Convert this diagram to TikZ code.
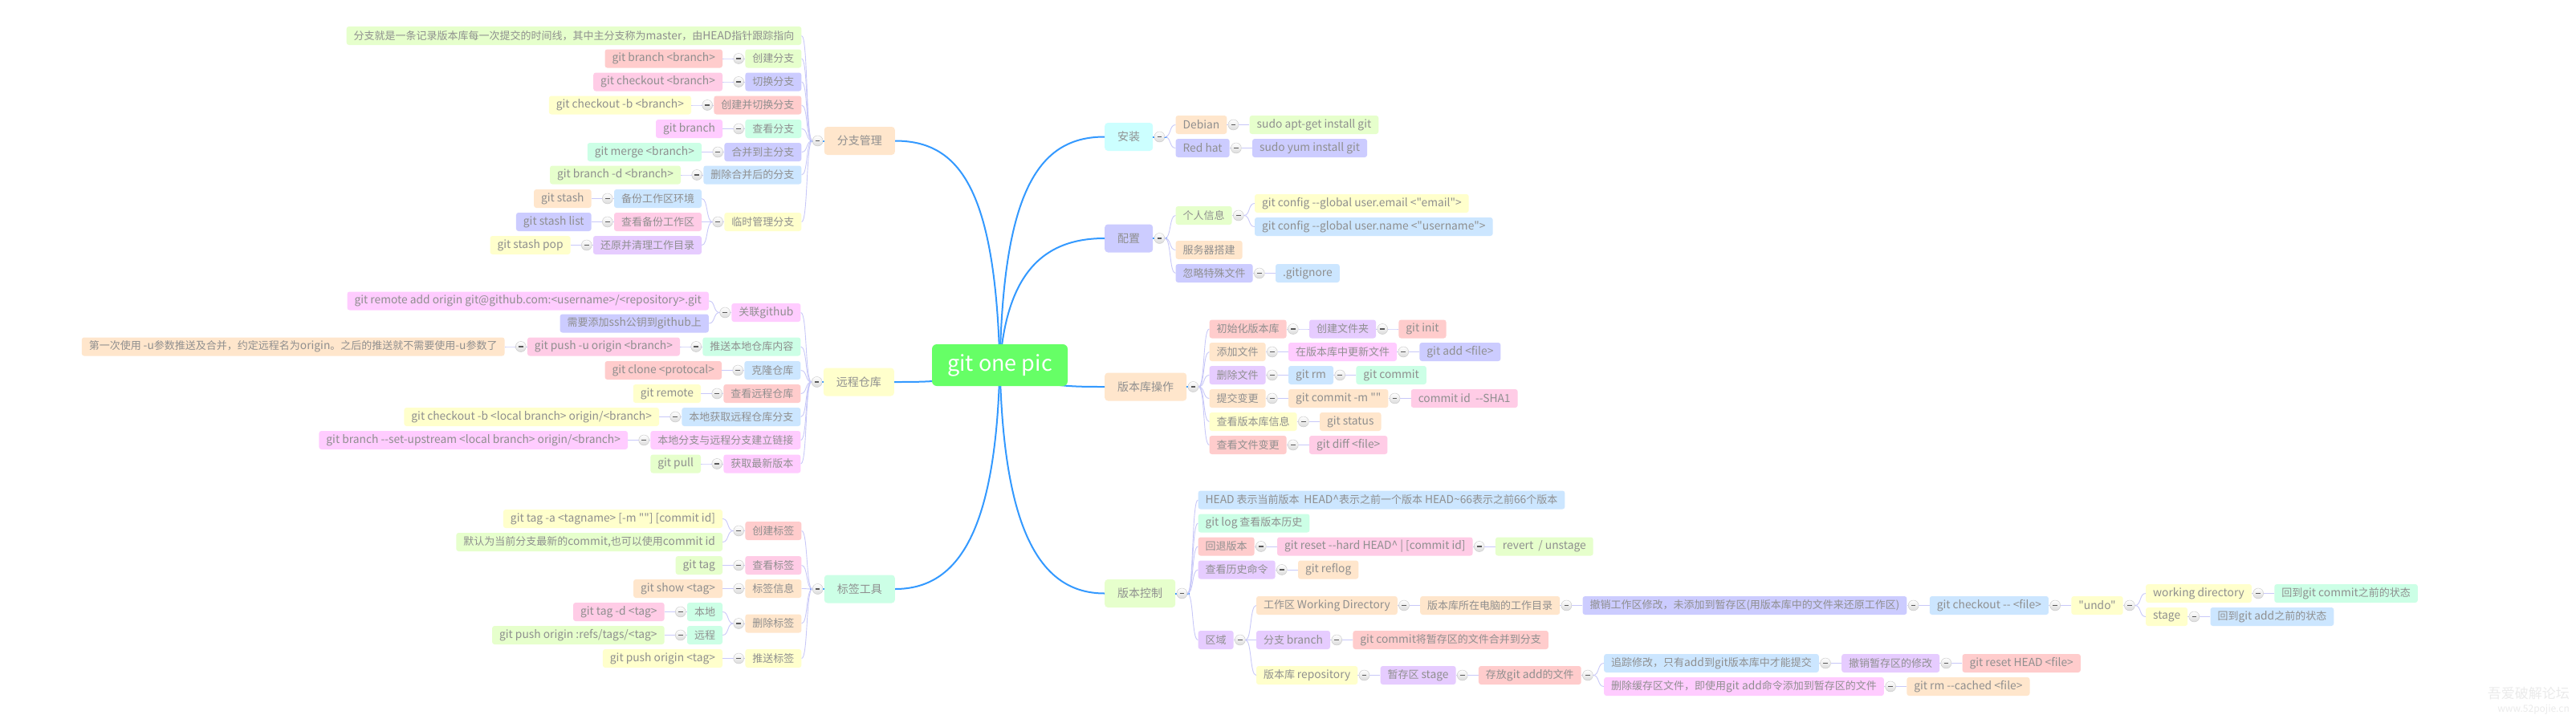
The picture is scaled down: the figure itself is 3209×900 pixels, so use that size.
\documentclass[tikz,border=0pt]{standalone}
\usepackage{fontspec}
\newfontfamily\cn{Noto Sans CJK SC}[Ligatures=TeXOff]
\usetikzlibrary{backgrounds,calc,shadings}
\newcommand\lx[1]{{\fontsize{13.8pt}{15pt}\selectfont #1}}
\definecolor{txt}{HTML}{8F8F8F}
\definecolor{cO}{HTML}{FFE6CC}
\definecolor{cY}{HTML}{FFFFCC}
\definecolor{cG}{HTML}{E6FFCC}
\definecolor{cM}{HTML}{CCFFE6}
\definecolor{cC}{HTML}{CCFFFF}
\definecolor{cB}{HTML}{CCE6FF}
\definecolor{cL}{HTML}{CCCCFF}
\definecolor{cP}{HTML}{E6CCFF}
\definecolor{cMg}{HTML}{FFCCFF}
\definecolor{cK}{HTML}{FFCCE6}
\definecolor{cR}{HTML}{FFCCCC}
\definecolor{rootg}{HTML}{66FF66}
\definecolor{mblue}{HTML}{3399FF}
\definecolor{lline}{HTML}{C8C8F8}
\tikzset{
  sub/.style={rounded corners=3pt, minimum height=23pt, inner xsep=9pt, inner ysep=0pt, text=txt, font=\cn\fontsize{13pt}{15pt}\selectfont},
  mt/.style={rounded corners=4pt, minimum height=35pt, inner xsep=16pt, inner ysep=0pt, text=txt, font=\cn\fontsize{14pt}{16pt}\selectfont},
  rootbox/.style={rounded corners=6pt, fill=rootg, minimum width=169pt, minimum height=52pt, inner sep=0pt, text=white, font=\cn\fontsize{27pt}{30pt}\selectfont},
  col/.style={circle, minimum size=13pt, inner sep=0pt, draw=gray!45, top color=white, bottom color=gray!28,
    path picture={\draw[line width=1.7pt, draw=gray!70!black] ([xshift=-2.8pt]path picture bounding box.center) -- ([xshift=2.8pt]path picture bounding box.center);}},
  sl/.style={draw=lline, line width=0.9pt},
  ml/.style={draw=mblue, line width=2pt},
}
% left-side child: color, name, parent, y, text
\newcommand\LK[5]{\node[sub,fill=#1,anchor=east] (#2) at ([xshift=-28pt]#3.west |- 0,#4) {#5};
  \draw[sl] (#3-c.west) .. controls +(-8,0) and +(8,0) .. (#2.east);}
\newcommand\RK[5]{\node[sub,fill=#1,anchor=west] (#2) at ([xshift=28pt]#3.east |- 0,#4) {#5};
  \draw[sl] (#3-c.east) .. controls +(8,0) and +(-8,0) .. (#2.west);}
\newcommand\LCol[1]{\draw[sl] ([xshift=-8pt]#1.west) -- (#1.west);
  \node[col] (#1-c) at ([xshift=-8pt]#1.west) {};}
\newcommand\RCol[1]{\draw[sl] ([xshift=8pt]#1.east) -- (#1.east);
  \node[col] (#1-c) at ([xshift=8pt]#1.east) {};}
\newcommand\MLCol[1]{\draw[ml] ([xshift=-18pt]#1.west) -- (#1.west);
  \node[col] (#1-c) at ([xshift=-8pt]#1.west) {};}
\newcommand\MRCol[1]{\draw[ml] ([xshift=18pt]#1.east) -- (#1.east);
  \node[col] (#1-c) at ([xshift=8pt]#1.east) {};}

\begin{document}
\begin{tikzpicture}[x=1pt,y=-1pt]
\fill[white] (0,0) rectangle (3209,900);
\useasboundingbox (0,0) rectangle (3209,900);

% main topics
\node[mt,fill=cO,anchor=east] (fz) at (1115,175.5) {分支管理};
\node[mt,fill=cY,anchor=east] (yc) at (1114,476) {远程仓库};
\node[mt,fill=cM,anchor=east] (bq) at (1115,734) {标签工具};
\node[mt,fill=cC,anchor=west] (az) at (1376,170.5) {安装};
\node[mt,fill=cL,anchor=west] (pz) at (1376,297) {配置};
\node[mt,fill=cO,anchor=west] (bk) at (1376,482) {版本库操作};
\node[mt,fill=cG,anchor=west] (bc) at (1376,739.5) {版本控制};

% root connectors
\coordinate (rc) at (1245.5,455);
\draw[ml] (rc) .. controls (1240,235) and (1195,175.5) .. (fz.east);
\draw[ml] (rc) .. controls (1200,476) and (1160,476) .. (yc.east);
\draw[ml] (rc) .. controls (1241,660) and (1195,734) .. (bq.east);
\draw[ml] (rc) .. controls (1250,235) and (1295,170.5) .. (az.west);
\draw[ml] (rc) .. controls (1254,340) and (1300,297) .. (pz.west);
\draw[ml] (rc) .. controls (1290,482) and (1330,482) .. (bk.west);
\draw[ml] (rc) .. controls (1250,660) and (1295,739.5) .. (bc.west);
\node[rootbox] (root) at (rc) {git one pic};

% ---------- 分支管理 ----------
\MLCol{fz}
\LK{cG}{fz1}{fz}{44.5}{分支就是一条记录版本库每一次提交的时间线，其中主分支称为\lx{master}，由\lx{HEAD}指针跟踪指向}
\LK{cG}{fz2}{fz}{73}{创建分支}
\LK{cL}{fz3}{fz}{102}{切换分支}
\LK{cR}{fz4}{fz}{131}{创建并切换分支}
\LK{cM}{fz5}{fz}{160.5}{查看分支}
\LK{cL}{fz6}{fz}{189.5}{合并到主分支}
\LK{cB}{fz7}{fz}{218}{删除合并后的分支}
\LK{cY}{fz8}{fz}{276.5}{临时管理分支}
\LCol{fz2}\LK{cR}{fz2a}{fz2}{73}{\lx{git branch <branch>}}
\LCol{fz3}\LK{cK}{fz3a}{fz3}{102}{\lx{git checkout <branch>}}
\LCol{fz4}\LK{cY}{fz4a}{fz4}{131}{\lx{git checkout -b <branch>}}
\LCol{fz5}\LK{cMg}{fz5a}{fz5}{160.5}{\lx{git branch}}
\LCol{fz6}\LK{cM}{fz6a}{fz6}{189.5}{\lx{git merge <branch>}}
\LCol{fz7}\LK{cG}{fz7a}{fz7}{218}{\lx{git branch -d <branch>}}
\LCol{fz8}
\LK{cB}{fz8a}{fz8}{247.5}{备份工作区环境}
\LK{cK}{fz8b}{fz8}{276.5}{查看备份工作区}
\LK{cP}{fz8c}{fz8}{305.5}{还原并清理工作目录}
\LCol{fz8a}\LK{cO}{fz8d}{fz8a}{247.5}{\lx{git stash}}
\LCol{fz8b}\LK{cL}{fz8e}{fz8b}{276.5}{\lx{git stash list}}
\LCol{fz8c}\LK{cY}{fz8f}{fz8c}{305.5}{\lx{git stash pop}}

% ---------- 远程仓库 ----------
\MLCol{yc}
\LK{cMg}{yc1}{yc}{389.5}{关联\lx{github}}
\LK{cM}{yc2}{yc}{432}{推送本地仓库内容}
\LK{cB}{yc3}{yc}{461.5}{克隆仓库}
\LK{cR}{yc4}{yc}{490.5}{查看远程仓库}
\LK{cB}{yc5}{yc}{519.5}{本地获取远程仓库分支}
\LK{cMg}{yc6}{yc}{548.5}{本地分支与远程分支建立链接}
\LK{cMg}{yc7}{yc}{578}{获取最新版本}
\LCol{yc1}
\LK{cMg}{yc1a}{yc1}{375}{\lx{git remote add origin git@github.com:<username>/<repository>.git}}
\LK{cL}{yc1b}{yc1}{403}{需要添加\lx{ssh}公钥到\lx{github}上}
\LCol{yc2}\LK{cK}{yc2a}{yc2}{432}{\lx{git push -u origin <branch>}}
\LCol{yc2a}\LK{cO}{yc2b}{yc2a}{432}{第一次使用 \lx{-u}参数推送及合并，约定远程名为\lx{origin}。之后的推送就不需要使用\lx{-u}参数了}
\LCol{yc3}\LK{cR}{yc3a}{yc3}{461.5}{\lx{git clone <protocal>}}
\LCol{yc4}\LK{cY}{yc4a}{yc4}{490.5}{\lx{git remote}}
\LCol{yc5}\LK{cY}{yc5a}{yc5}{519.5}{\lx{git checkout -b <local branch> origin/<branch>}}
\LCol{yc6}\LK{cMg}{yc6a}{yc6}{548.5}{\lx{git branch --set-upstream <local branch> origin/<branch>}}
\LCol{yc7}\LK{cG}{yc7a}{yc7}{578}{\lx{git pull}}

% ---------- 标签工具 ----------
\MLCol{bq}
\LK{cR}{bq1}{bq}{661.5}{创建标签}
\LK{cK}{bq2}{bq}{704.5}{查看标签}
\LK{cO}{bq3}{bq}{733.5}{标签信息}
\LK{cO}{bq4}{bq}{777}{删除标签}
\LK{cY}{bq5}{bq}{820.5}{推送标签}
\LCol{bq1}
\LK{cY}{bq1a}{bq1}{646.5}{\lx{git tag -a <tagname> [-m ""] [commit id]}}
\LK{cG}{bq1b}{bq1}{675.5}{默认为当前分支最新的\lx{commit,}也可以使用\lx{commit id}}
\LCol{bq2}\LK{cG}{bq2a}{bq2}{704.5}{\lx{git tag}}
\LCol{bq3}\LK{cO}{bq3a}{bq3}{733.5}{\lx{git show <tag>}}
\LCol{bq4}
\LK{cM}{bq4a}{bq4}{762.5}{本地}
\LK{cM}{bq4b}{bq4}{791.5}{远程}
\LCol{bq4a}\LK{cK}{bq4c}{bq4a}{762.5}{\lx{git tag -d <tag>}}
\LCol{bq4b}\LK{cG}{bq4d}{bq4b}{791.5}{\lx{git push origin :refs/tags/<tag>}}
\LCol{bq5}\LK{cY}{bq5a}{bq5}{820.5}{\lx{git push origin <tag>}}

% ---------- 安装 ----------
\MRCol{az}
\RK{cO}{az1}{az}{155.5}{\lx{Debian}}
\RK{cL}{az2}{az}{184.5}{\lx{Red hat}}
\RCol{az1}\RK{cG}{az1a}{az1}{155.5}{\lx{sudo apt-get install git}}
\RCol{az2}\RK{cL}{az2a}{az2}{184.5}{\lx{sudo yum install git}}

% ---------- 配置 ----------
\MRCol{pz}
\RK{cG}{pz1}{pz}{268.5}{个人信息}
\RK{cO}{pz2}{pz}{311.5}{服务器搭建}
\RK{cL}{pz3}{pz}{340.5}{忽略特殊文件}
\RCol{pz1}
\RK{cY}{pz1a}{pz1}{253.5}{\lx{git config --global user.email <"email">}}
\RK{cB}{pz1b}{pz1}{282.5}{\lx{git config --global user.name <"username">}}
\RCol{pz3}\RK{cB}{pz3a}{pz3}{340.5}{\lx{.gitignore}}

% ---------- 版本库操作 ----------
\MRCol{bk}
\RK{cR}{bk1}{bk}{410}{初始化版本库}
\RK{cO}{bk2}{bk}{438.5}{添加文件}
\RK{cP}{bk3}{bk}{467.5}{删除文件}
\RK{cO}{bk4}{bk}{496.5}{提交变更}
\RK{cY}{bk5}{bk}{525.5}{查看版本库信息}
\RK{cR}{bk6}{bk}{554.5}{查看文件变更}
\RCol{bk1}\RK{cP}{bk1a}{bk1}{410}{创建文件夹}
\RCol{bk1a}\RK{cR}{bk1b}{bk1a}{410}{\lx{git init}}
\RCol{bk2}\RK{cMg}{bk2a}{bk2}{438.5}{在版本库中更新文件}
\RCol{bk2a}\RK{cL}{bk2b}{bk2a}{438.5}{\lx{git add <file>}}
\RCol{bk3}\RK{cB}{bk3a}{bk3}{467.5}{\lx{git rm}}
\RCol{bk3a}\RK{cM}{bk3b}{bk3a}{467.5}{\lx{git commit}}
\RCol{bk4}\RK{cO}{bk4a}{bk4}{496.5}{\lx{git commit -m ""}}
\RCol{bk4a}\RK{cK}{bk4b}{bk4a}{496.5}{\lx{commit id\ \ --SHA1}}
\RCol{bk5}\RK{cO}{bk5a}{bk5}{525.5}{\lx{git status}}
\RCol{bk6}\RK{cK}{bk6a}{bk6}{554.5}{\lx{git diff <file>}}

% ---------- 版本控制 ----------
\MRCol{bc}
\RK{cB}{bc1}{bc}{623}{\lx{HEAD} 表示当前版本\ \ \lx{HEAD\textasciicircum{}}表示之前一个版本 \lx{HEAD\textasciitilde{}66}表示之前\lx{66}个版本}
\RK{cM}{bc2}{bc}{652}{\lx{git log} 查看版本历史}
\RK{cR}{bc3}{bc}{681}{回退版本}
\RK{cP}{bc4}{bc}{710}{查看历史命令}
\RK{cP}{bc5}{bc}{797.5}{区域}
\RCol{bc3}\RK{cK}{bc3a}{bc3}{681}{\lx{git reset --hard HEAD\textasciicircum{} | [commit id]}}
\RCol{bc3a}\RK{cG}{bc3b}{bc3a}{681}{\lx{revert\ \ / unstage}}
\RCol{bc4}\RK{cO}{bc4a}{bc4}{710}{\lx{git reflog}}
\RCol{bc5}
\RK{cO}{qy1}{bc5}{754.5}{工作区 \lx{Working Directory}}
\RK{cP}{qy2}{bc5}{797.5}{分支 \lx{branch}}
\RK{cY}{qy3}{bc5}{841.5}{版本库 \lx{repository}}
\RCol{qy1}\RK{cO}{qy1a}{qy1}{754.5}{版本库所在电脑的工作目录}
\RCol{qy1a}\RK{cL}{qy1b}{qy1a}{754.5}{撤销工作区修改，未添加到暂存区(用版本库中的文件来还原工作区)}
\RCol{qy1b}\RK{cB}{qy1c}{qy1b}{754.5}{\lx{git checkout -- <file>}}
\RCol{qy1c}\RK{cY}{qy1d}{qy1c}{754.5}{\lx{"undo"}}
\RCol{qy1d}
\RK{cY}{qy1e}{qy1d}{739.5}{\lx{working directory}}
\RK{cY}{qy1g}{qy1d}{768.5}{\lx{stage}}
\RCol{qy1e}\RK{cM}{qy1f}{qy1e}{739.5}{回到\lx{git commit}之前的状态}
\RCol{qy1g}\RK{cB}{qy1h}{qy1g}{768.5}{回到\lx{git add}之前的状态}
\RCol{qy2}\RK{cR}{qy2a}{qy2}{797.5}{\lx{git commit}将暂存区的文件合并到分支}
\RCol{qy3}\RK{cP}{qy3a}{qy3}{841.5}{暂存区 \lx{stage}}
\RCol{qy3a}\RK{cR}{qy3b}{qy3a}{841.5}{存放\lx{git add}的文件}
\RCol{qy3b}
\RK{cB}{qy3c}{qy3b}{826.5}{追踪修改，只有\lx{add}到\lx{git}版本库中才能提交}
\RK{cMg}{qy3f}{qy3b}{855.5}{删除缓存区文件，即使用\lx{git add}命令添加到暂存区的文件}
\RCol{qy3c}\RK{cP}{qy3d}{qy3c}{826.5}{撤销暂存区的修改}
\RCol{qy3d}\RK{cR}{qy3e}{qy3d}{826.5}{\lx{git reset HEAD <file>}}
\RCol{qy3f}\RK{cO}{qy3g}{qy3f}{855.5}{\lx{git rm --cached <file>}}

% watermark
\node[anchor=east, inner sep=0pt, text=gray!16, font=\cn\fontsize{17pt}{19pt}\selectfont] (wm1) at (3201,864) {吾爱破解论坛};
\node[anchor=east, inner sep=0pt, text=gray!16, font=\cn\fontsize{12pt}{14pt}\selectfont] (wm2) at (3201,884) {www.52pojie.cn};
\end{tikzpicture}
\end{document}
